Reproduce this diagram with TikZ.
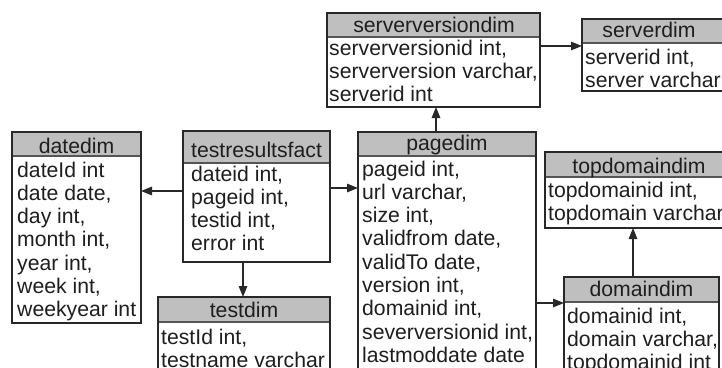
\documentclass[tikz,border=0pt]{standalone}
\usepackage{fontspec}
\setmainfont{Liberation Sans}
\usetikzlibrary{arrows.meta}
\definecolor{hdrc}{RGB}{191,191,191}
\definecolor{bordc}{RGB}{40,40,40}
\definecolor{sepc}{RGB}{85,85,85}
\definecolor{txtc}{RGB}{30,30,30}
\tikzset{
  txt/.style={inner sep=0pt, text=txtc, font=\fontsize{21.2}{23.3}\selectfont},
  tabbox/.style={draw=bordc, line width=1.2pt, inner sep=0pt, outer sep=0pt},
  sepline/.style={draw=sepc, line width=1.6pt},
  arr/.style={-{Triangle[length=11pt,width=8.5pt]}, line width=1.4pt, draw=bordc},
}
% name, x1, y1, x2, yh, y2, header-x, title, header-baseline
\newcommand\dbtab[9]{%
  \fill[hdrc] (#2,#3) rectangle (#4,#5);
  \draw[sepline] (#2,#5) -- (#4,#5);
  \node[tabbox, minimum width={(#4-#2)*1pt}, minimum height={(#6-#3)*1pt}, anchor=north west] (#1) at (#2,#3) {};
  \node[txt, anchor=base] (#1-title) at (#7,#9) {#8};
}
% name, x, first baseline, lines
\newcommand\dblines[4]{%
  \foreach \tline [count=\i] in {#4} {\node[txt, anchor=base west] (#1-l\i) at (#2, {#3+(\i-1)*23.3}) {\tline};}
}
\begin{document}
\begin{tikzpicture}[x=1pt,y=-1pt]
\useasboundingbox (0,0) rectangle (722,367);
\clip (0,0) rectangle (722,367);
\fill[white] (0,0) rectangle (722,367);

\dbtab{sv}{327}{13}{540}{37}{107}{434}{serverversiondim}{32}
\dblines{sv}{329}{55}{{serverversionid int,},{serverversion varchar,},{serverid int}}

\dbtab{sd}{582}{19}{760}{43}{91}{649}{serverdim}{37}
\dblines{sd}{585}{64.5}{{serverid int,},{server varchar}}

\dbtab{dd}{12}{132}{141}{156}{323}{76.5}{datedim}{153}
\dblines{dd}{17}{177}{{dateId int},{date date,},{day int,},{month int,},{year int,},{week int,},{weekyear int}}

\dbtab{tf}{183}{131}{330}{163}{262}{256.5}{testresultsfact}{157}
\dblines{tf}{191}{181}{{dateid int,},{pageid int,},{testid int,},{error int}}

\dbtab{td}{158}{297}{330}{322}{390}{244}{testdim}{317}
\dblines{td}{161}{344}{{testId int,},{testname varchar}}

\dbtab{pg}{358}{132}{536}{156}{390}{447}{pagedim}{150}
\dblines{pg}{362}{176}{{pageid int,},{url varchar,},{size int,},{validfrom date,},{validTo date,},{version int,},{domainid int,},{severversionid int,},{lastmoddate date}}

\dbtab{tp}{545}{152}{760}{177}{228}{639}{topdomaindim}{173}
\dblines{tp}{548}{197}{{topdomainid int,},{topdomain varchar}}

\dbtab{dm}{564}{277}{719}{302}{390}{641.5}{domaindim}{296}
\dblines{dm}{567}{323}{{domainid int,},{domain varchar,},{topdomainid int}}

\coordinate (ya) at (0,191);
\coordinate (yb) at (0,188);
\coordinate (yc) at (0,46);
\coordinate (yd) at (0,303);
\coordinate (xa) at (243,0);
\coordinate (xb) at (436,0);
\coordinate (xc) at (633,0);

\draw[arr] (tf.west |- ya) -- (dd.east |- ya);
\draw[arr] (tf.east |- yb) -- (pg.west |- yb);
\draw[arr] (tf.south -| xa) -- (td.north -| xa);
\draw[arr] (pg.north -| xb) -- (sv.south -| xb);
\draw[arr] (sv.east |- yc) -- (sd.west |- yc);
\draw[arr] (pg.east |- yd) -- (dm.west |- yd);
\draw[arr] (dm.north -| xc) -- (tp.south -| xc);
\end{tikzpicture}
\end{document}
